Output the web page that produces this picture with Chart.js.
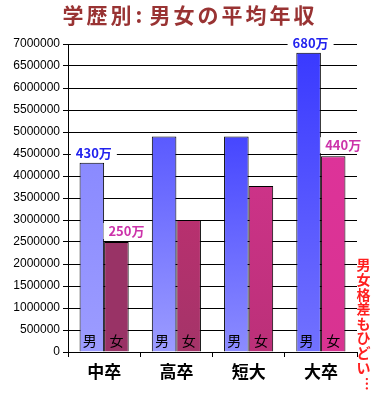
<!DOCTYPE html>
<html>
<head>
<meta charset="utf-8">
<script src="https://cdn.jsdelivr.net/npm/chart.js@4/dist/chart.umd.min.js"></script>
<style>
html,body{margin:0;padding:0;background:#fff;}
#wrap{position:relative;width:380px;height:400px;}
#title{position:absolute;left:0;top:3px;width:380px;text-align:center;font-family:"Noto Sans CJK JP",sans-serif;font-weight:bold;font-size:21px;line-height:22px;letter-spacing:3px;color:#993333;white-space:nowrap;}
#title .colon{margin:0 4px 0 1px;}
canvas{position:absolute;left:0;top:0;}
</style>
</head>
<body>
<div id="wrap">
<canvas id="c" width="380" height="400"></canvas>
<div id="title">学歴別<span class="colon">:</span>男女の平均年収</div>
</div>
<script>
// ---- data ----
const categories = ['中卒', '高卒', '短大', '大卒'];
const maleValues = [4300000, 4900000, 4900000, 6800000];
const femaleValues = [2500000, 3000000, 3770000, 4450000];
const maleNotes = ['430万', '', '', '680万'];
const femaleNotes = ['250万', '', '', '440万'];
const seriesNames = ['男', '女'];
const sideNote = '男女格差もひどい…';
const yTickMin = 0, yTickMax = 7000000, yTickStep = 500000;

// ---- styles ----
const maleTop = ['#8a8aff', '#5a5aff', '#4646ff', '#3a3aff'];
const maleBottom = ['#9c9cff', '#9c9cff', '#8c8cff', '#7272ff'];
const femaleTop = ['#993366', '#b8306f', '#cc3388', '#dd3399'];
const femaleBottom = ['#993366', '#a43468', '#bb3078', '#d83390'];
const CJK = '"Noto Sans CJK JP", sans-serif';

function gradFill(tops, bottoms) {
  return function (ctx) {
    const chart = ctx.chart;
    const i = ctx.dataIndex;
    if (!chart.chartArea || i === undefined) return tops[0];
    const y = chart.scales.y;
    const v = ctx.dataset.data[i];
    const g = chart.ctx.createLinearGradient(0, y.getPixelForValue(v), 0, y.getPixelForValue(0));
    g.addColorStop(0, tops[i]);
    g.addColorStop(1, bottoms[i]);
    return g;
  };
}

const labelPlugin = {
  id: 'labels',
  afterDatasetsDraw(chart) {
    const ctx = chart.ctx;
    const notes = [maleNotes, femaleNotes];
    const noteColors = ['#2222ee', '#cc33aa'];
    const noteDx = [2, 10];
    const noteDy = [10, 11];
    ctx.save();
    chart.data.datasets.forEach((ds, di) => {
      const meta = chart.getDatasetMeta(di);
      meta.data.forEach((bar, i) => {
        ctx.font = '14px ' + CJK;
        ctx.fillStyle = '#000';
        ctx.textAlign = 'center';
        ctx.textBaseline = 'middle';
        ctx.fillText(seriesNames[di], bar.x - (di === 0 ? 2 : 0), bar.base - 11);
        const t = notes[di][i];
        if (t) {
          ctx.font = 'bold 13px ' + CJK;
          const w = ctx.measureText(t).width;
          const cx = bar.x + noteDx[di];
          const cy = bar.y - noteDy[di];
          ctx.fillStyle = '#fff';
          ctx.fillRect(cx - w / 2 - 5, cy - 8, w + 10, 16);
          ctx.fillStyle = noteColors[di];
          ctx.fillText(t, cx, cy);
        }
      });
    });
    // vertical side note
    ctx.font = 'bold 14px ' + CJK;
    ctx.fillStyle = '#ff2020';
    ctx.textAlign = 'center';
    ctx.textBaseline = 'middle';
    Array.from(sideNote).forEach((ch, k) => {
      const x = 363.5, y = 265 + k * 14.6;
      if (ch === '…') {
        ctx.save();
        ctx.translate(x + 4, y + 2);
        ctx.rotate(Math.PI / 2);
        ctx.fillText(ch, 0, 0);
        ctx.restore();
      } else {
        ctx.fillText(ch, x, y);
      }
    });
    ctx.restore();
  }
};

new Chart(document.getElementById('c'), {
  type: 'bar',
  data: {
    labels: categories,
    datasets: [
      { label: seriesNames[0], data: maleValues, backgroundColor: gradFill(maleTop, maleBottom), borderColor: '#000', borderWidth: 1, borderSkipped: 'bottom' },
      { label: seriesNames[1], data: femaleValues, backgroundColor: gradFill(femaleTop, femaleBottom), borderColor: '#000', borderWidth: 1, borderSkipped: 'bottom' }
    ]
  },
  options: {
    responsive: false,
    animation: false,
    devicePixelRatio: 1,
    layout: { padding: { top: 44, right: 23, left: 0, bottom: 0 } },
    datasets: { bar: { categoryPercentage: 0.68, barPercentage: 1.0 } },
    plugins: { legend: { display: false }, tooltip: { enabled: false }, title: { display: false } },
    scales: {
      x: {
        afterFit(s) { s.height = 48; },
        grid: { offset: true, drawOnChartArea: false, color: '#000', tickLength: 5, lineWidth: 1 },
        border: { display: true, color: '#000' },
        ticks: { color: '#000', font: { family: CJK, size: 17, weight: 'bold' }, padding: 4 }
      },
      y: {
        min: yTickMin, max: yTickMax,
        afterFit(s) { s.width = 68; },
        grid: { color: '#000', tickLength: 5, lineWidth: 1 },
        border: { display: true, color: '#000' },
        ticks: { stepSize: yTickStep, color: '#000', font: { family: '"Liberation Sans", Arial, sans-serif', size: 12 }, padding: 3, callback: v => String(v) }
      }
    }
  },
  plugins: [labelPlugin]
});
</script>
</body>
</html>
